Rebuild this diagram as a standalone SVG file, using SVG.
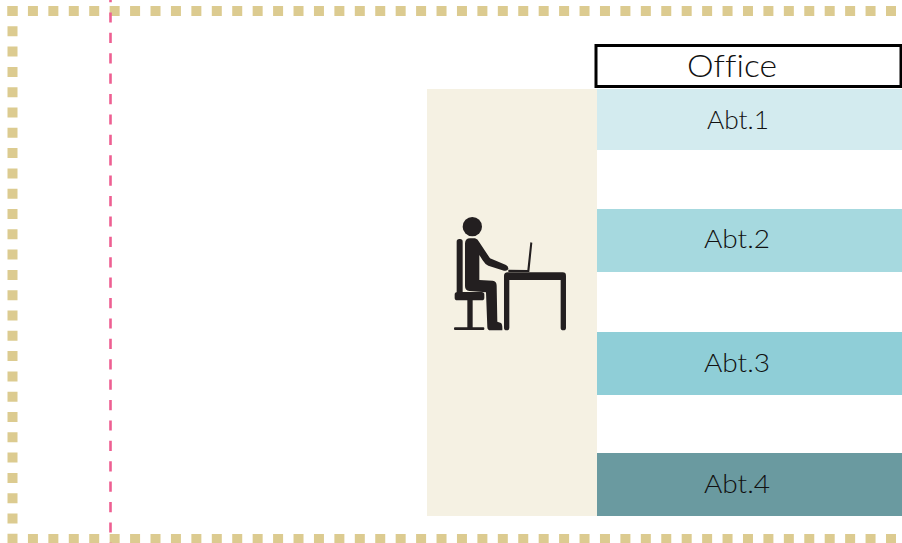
<svg xmlns="http://www.w3.org/2000/svg" width="902" height="543" viewBox="0 0 902 543">
<style>
.lbl{font-family:"Lato","Liberation Sans",sans-serif;font-weight:300;font-variant-ligatures:none;fill:#111;text-anchor:middle}
.dot{fill:none;stroke:#dccb90;stroke-width:10;stroke-dasharray:10 10.43}
.ink{fill:#231f20}
</style>
<rect width="902" height="543" fill="#fff"/>
<g id="border">
<line class="dot" x1="7.5" y1="11" x2="902" y2="11"/>
<line class="dot" x1="12.5" y1="6" x2="12.5" y2="534" style="stroke-dasharray:10 10.3"/>
<line class="dot" x1="7.5" y1="539" x2="902" y2="539"/>
</g>
<line id="divider" x1="110.5" y1="-8" x2="110.5" y2="543" stroke="#ee5f92" stroke-width="2.6" stroke-dasharray="10.2 10.2"/>
<g id="workspace">
<rect x="427" y="89" width="170" height="427" fill="#f5f1e3"/>
<g id="person" transform="translate(440 205) scale(.3333)">
<circle class="ink" cx="97" cy="65" r="29"/>
<rect class="ink" x="50" y="102" width="18" height="165" rx="8"/>
<rect class="ink" x="44" y="261" width="89" height="25" rx="8"/>
<rect class="ink" x="82" y="280" width="16" height="92"/>
<rect class="ink" x="42" y="367" width="91" height="8" rx="3"/>
<path class="ink" d="M75 115Q76 100 90 100L105 100Q113 102 118 112L150 160L198 180Q206 184 205 192Q202 199 192 197L145 182Q135 178 128 166L118 150L118 225L158 227Q170 228 170 242L172 350L183 354Q188 358 187 376L152 376Q142 376 142 366L138 262L88 258Q75 256 75 243Z"/>
<path class="ink" d="M192 213Q192 202 203 202L368 202Q378 202 378 212L378 368Q378 376 370 376Q362 376 362 368L362 225L208 225L208 368Q208 376 200 376Q192 376 192 368Z"/>
<path class="ink" d="M271 112L277 113L268 201L205 201L205 194L262 195Z"/>
</g>
</g>
<g id="office">
<rect x="596" y="45.5" width="305" height="41" fill="#fff" stroke="#000" stroke-width="3"/>
<text class="lbl" x="732" y="77" font-size="32" textLength="90" lengthAdjust="spacingAndGlyphs">Office</text>
</g>
<g id="abt1">
<rect x="597" y="89" width="305" height="61" fill="#d3ebef"/>
<text class="lbl" x="738" y="129" font-size="26" textLength="62" lengthAdjust="spacingAndGlyphs">Abt.1</text>
</g>
<g id="abt2">
<rect x="597" y="209" width="305" height="63" fill="#a6d9df"/>
<text class="lbl" x="737" y="248" font-size="26" textLength="66" lengthAdjust="spacingAndGlyphs">Abt.2</text>
</g>
<g id="abt3">
<rect x="597" y="332" width="305" height="63" fill="#8fced7"/>
<text class="lbl" x="737" y="372" font-size="26" textLength="66" lengthAdjust="spacingAndGlyphs">Abt.3</text>
</g>
<g id="abt4">
<rect x="597" y="453" width="305" height="63" fill="#6a9aa0"/>
<text class="lbl" x="737" y="493" font-size="26" textLength="66" lengthAdjust="spacingAndGlyphs">Abt.4</text>
</g>
<g id="connectors"/>
</svg>
